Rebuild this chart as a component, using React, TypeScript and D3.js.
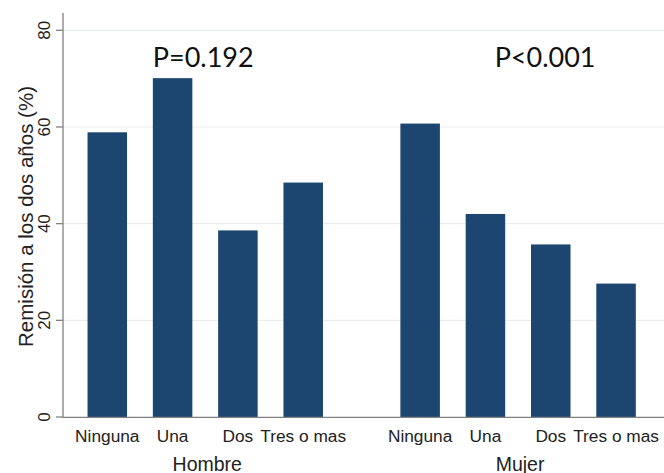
import React, { useEffect } from "react";
import * as d3 from "d3";

const groups = ["Hombre", "Mujer"];
const categories = ["Ninguna", "Una", "Dos", "Tres o mas"];
const hombreValues = [58.9, 70.1, 38.6, 48.5];
const mujerValues = [60.7, 42.0, 35.7, 27.6];
const pLabels = ["P=0.192", "P<0.001"];
const yTicks = [0, 20, 40, 60, 80];
const yTitle = "Remisión a los dos años (%)";

const W = 664;
const H = 473;

export default function App() {
  useEffect(() => {
    document.body.style.margin = "0";
  }, []);

  const series = [hombreValues, mujerValues];
  const y = d3.scaleLinear().domain([0, 80]).range([417, 30.3]);
  const outer = d3
    .scaleBand<string>()
    .domain(groups)
    .range([63, 660.35])
    .paddingInner(0.165)
    .paddingOuter(0.0372);
  const inner = d3
    .scaleBand<string>()
    .domain(categories)
    .range([0, outer.bandwidth()])
    .paddingInner(0.395)
    .paddingOuter(0.1975);

  const pOffsets = [-2, 27];
  const axisColor = "#808080";
  const barColor = "#1c4670";
  const gridColor = "#e9edf0";
  const font = "'Liberation Sans', Arial, sans-serif";

  return (
    <svg
      width={W}
      height={H}
      style={{ position: "absolute", left: 0, top: 0, background: "#fff" }}
    >
      <rect width={W} height={H} fill="#fff" />
      {yTicks
        .filter((t) => t > 0)
        .map((t) => (
          <line
            key={"g" + t}
            x1={63}
            x2={W}
            y1={y(t)}
            y2={y(t)}
            stroke={gridColor}
            strokeWidth={1.2}
          />
        ))}
      {groups.map((g, gi) =>
        categories.map((c, ci) => (
          <rect
            key={g + c}
            x={(outer(g) as number) + (inner(c) as number)}
            y={y(series[gi][ci])}
            width={inner.bandwidth()}
            height={y(0) - y(series[gi][ci])}
            fill={barColor}
          />
        ))
      )}
      <line x1={63} x2={63} y1={13} y2={417.5} stroke={axisColor} strokeWidth={1.3} />
      <line x1={62.5} x2={W} y1={417.3} y2={417.3} stroke={axisColor} strokeWidth={1.3} />
      {yTicks.map((t) => (
        <g key={"t" + t}>
          <line x1={56} x2={63} y1={y(t)} y2={y(t)} stroke={axisColor} strokeWidth={1.3} />
          <text
            transform={`translate(50,${y(t)}) rotate(-90)`}
            textAnchor="middle"
            fontFamily={font}
            fontSize={17}
            fill="#222"
          >
            {t}
          </text>
        </g>
      ))}
      <text
        transform={`translate(33,216.5) rotate(-90)`}
        textAnchor="middle"
        fontFamily={font}
        fontSize={20.5}
        fill="#222"
      >
        {yTitle}
      </text>
      {groups.map((g) =>
        categories.map((c) => (
          <text
            key={"l" + g + c}
            x={(outer(g) as number) + (inner(c) as number) + inner.bandwidth() / 2}
            y={441.7}
            textAnchor="middle"
            fontFamily={font}
            fontSize={17.3}
            fill="#222"
          >
            {c}
          </text>
        ))
      )}
      {groups.map((g) => (
        <text
          key={"G" + g}
          x={(outer(g) as number) + outer.bandwidth() / 2 + 2}
          y={470.5}
          textAnchor="middle"
          fontFamily={font}
          fontSize={19.5}
          fill="#222"
        >
          {g}
        </text>
      ))}
      {groups.map((g, gi) => (
        <text
          key={"p" + g}
          x={(outer(g) as number) + outer.bandwidth() / 2 + pOffsets[gi]}
          y={66.7}
          textAnchor="middle"
          fontFamily="Lato, 'Open Sans', sans-serif"
          fontSize={27}
          fill="#111"
        >
          {pLabels[gi]}
        </text>
      ))}
    </svg>
  );
}
